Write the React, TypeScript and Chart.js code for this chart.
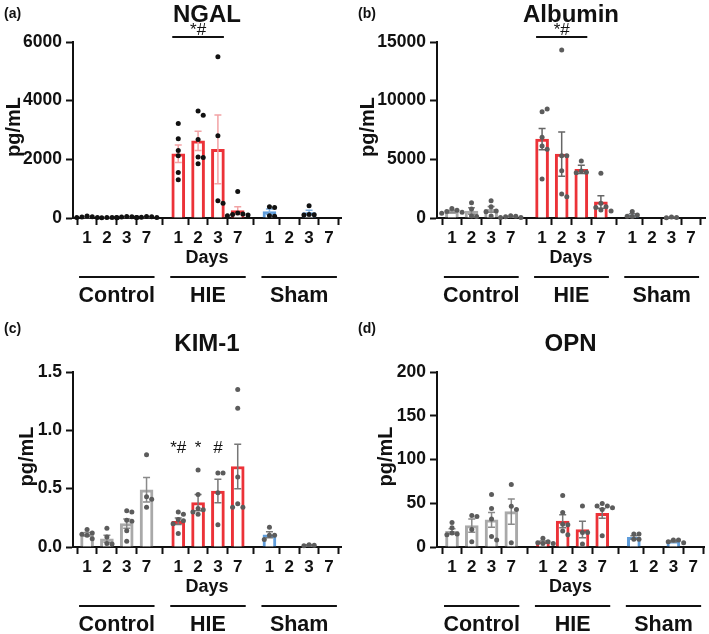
import React, { useEffect, useRef } from 'react';
import { Chart, registerables } from 'chart.js';

Chart.register(...registerables);

const FONT = "'Liberation Sans', Arial, Helvetica, sans-serif";

// ---------- categories / labels ----------
const DAY_LABELS = ['1', '2', '3', '7', '1', '2', '3', '7', '1', '2', '3', '7'];
const GROUP_NAMES = ['Control', 'HIE', 'Sham'];
const X_TITLE = 'Days';
const Y_TITLE = 'pg/mL';

// ---------- NGAL ----------
const ngalMeans = [35, 12, 30, 30, 2190, 2630, 2340, 250, 220, null, 185, null];
const ngalSems = [15, 5, 10, 10, 300, 330, 1170, 130, 90, null, 75, null];
const ngalPoints = [
  [70, 40, 30, 20, 15],
  [20, 15, 10, 5],
  [50, 40, 30, 15, 15],
  [50, 40, 25, 20, 15],
  [3220, 2700, 2300, 2120, 1550, 1300],
  [3650, 3500, 2680, 2080, 2060, 1850],
  [5500, 2800, 590, 500],
  [900, 170, 140, 120, 100, 80],
  [380, 360, 80, 60],
  [],
  [420, 120, 110, 100],
  [],
];

// ---------- Albumin ----------
const albMeans = [560, 590, 740, 110, 6720, 5450, 4150, 1370, 270, null, 50, null];
const albSems = [90, 280, 250, 40, 900, 1890, 350, 530, 100, null, 20, null];
const albPoints = [
  [820, 650, 550, 500, 400],
  [1300, 770, 170, 130],
  [1480, 960, 600, 540, 170],
  [200, 150, 100, 50, 50],
  [9060, 9290, 6880, 6140, 5860, 3330],
  [14320, 5310, 5310, 4030, 2050, 1820],
  [4860, 4000, 3900, 3850],
  [3810, 1250, 960, 900, 680, 600],
  [550, 250, 150, 120],
  [],
  [80, 50, 30],
  [],
];

// ---------- KIM-1 ----------
const kimMeans = [0.11, 0.07, 0.2, 0.49, 0.22, 0.38, 0.48, 0.69, 0.105, null, 0.015, null];
const kimSems = [0.015, 0.03, 0.04, 0.105, 0.028, 0.07, 0.1, 0.19, 0.025, null, 0.005, null];
const kimPoints = [
  [0.15, 0.12, 0.11, 0.1, 0.07],
  [0.16, 0.085, 0.03, 0.025],
  [0.31, 0.3, 0.23, 0.22, 0.14, 0.05],
  [0.79, 0.43, 0.41, 0.34],
  [0.3, 0.28, 0.235, 0.225, 0.2, 0.115],
  [0.66, 0.45, 0.33, 0.32, 0.3, 0.28],
  [0.635, 0.635, 0.465, 0.19],
  [1.35, 1.19, 0.6, 0.37, 0.34, 0.34],
  [0.17, 0.1, 0.1, 0.065],
  [],
  [0.02, 0.015, 0.01],
  [],
];
const kimSigMarks = ['*#', '*', '#'];
const kimSigValue = 0.85;

// ---------- OPN ----------
const opnMeans = [18, 24.5, 31, 40.5, 5.8, 29.5, 20, 38.5, 11, null, 6.5, null];
const opnSems = [3, 7.5, 8.5, 14.5, 1.2, 7.5, 9.5, 5.5, 1.8, null, 0.8, null];
const opnPoints = [
  [28, 22, 16, 15, 14],
  [36, 35, 20, 6],
  [60, 44, 32, 12, 8],
  [71.5, 46.7, 43, 5],
  [10, 6, 5, 4, 4],
  [59, 39.5, 26, 25.5, 18.4, 14],
  [47, 16.5, 16.5, 3.4],
  [49.7, 47, 47, 45, 43, 13],
  [15, 15, 9, 9],
  [],
  [8, 8, 6, 5],
  [],
];

// ---------- layout (not data) ----------
const POSITIONS = [0, 1, 2, 3, 4.6, 5.6, 6.6, 7.6, 9.2, 10.2, 11.2, 12.2];
const BAR_COLORS = ['#a9a9a9', '#ec3238', '#5f9ddb'];

type Panel = {
  tag: string;
  title: string;
  means: (number | null)[];
  sems: (number | null)[];
  points: number[][];
  yMax: number;
  yStep: number;
  decimals: number;
  dotColor: string;
  errColors: string[];
  bracket: string | null;
  marks: string[] | null;
  marksValue: number;
  box: { left: number; top: number; w: number; h: number };
  area: { left: number; right: number; top: number; bottom: number };
  xmin: number;
  xmax: number;
  titleBase: number;
  tagY: number;
  yTitleX: number;
};

const PANELS: Panel[] = [
  {
    tag: '(a)', title: 'NGAL', means: ngalMeans, sems: ngalSems, points: ngalPoints,
    yMax: 6000, yStep: 2000, decimals: 0, dotColor: '#111111',
    errColors: ['#9a9a9a', '#f2a3a5', '#7fb0e2'], bracket: '*#', marks: null, marksValue: 0,
    box: { left: 0, top: 0, w: 354, h: 310 },
    area: { left: 73, right: 341, top: 42, bottom: 218 },
    xmin: -0.71, xmax: 12.81, titleBase: 22, tagY: 14, yTitleX: 14,
  },
  {
    tag: '(b)', title: 'Albumin', means: albMeans, sems: albSems, points: albPoints,
    yMax: 15000, yStep: 5000, decimals: 0, dotColor: '#5c5c5c',
    errColors: ['#8a8a8a', '#666666', '#7a7a7a'], bracket: '*#', marks: null, marksValue: 0,
    box: { left: 354, top: 0, w: 355, h: 310 },
    area: { left: 83, right: 353, top: 42, bottom: 218 },
    xmin: -0.76, xmax: 12.91, titleBase: 22, tagY: 14, yTitleX: 14,
  },
  {
    tag: '(c)', title: 'KIM-1', means: kimMeans, sems: kimSems, points: kimPoints,
    yMax: 1.5, yStep: 0.5, decimals: 1, dotColor: '#5c5c5c',
    errColors: ['#8a8a8a', '#777777', '#7a7a7a'], bracket: null, marks: kimSigMarks, marksValue: kimSigValue,
    box: { left: 0, top: 310, w: 354, h: 324 },
    area: { left: 73, right: 341, top: 62, bottom: 237 },
    xmin: -0.71, xmax: 12.81, titleBase: 41, tagY: 19, yTitleX: 27,
  },
  {
    tag: '(d)', title: 'OPN', means: opnMeans, sems: opnSems, points: opnPoints,
    yMax: 200, yStep: 50, decimals: 0, dotColor: '#5c5c5c',
    errColors: ['#8a8a8a', '#777777', '#7a7a7a'], bracket: null, marks: null, marksValue: 0,
    box: { left: 354, top: 310, w: 355, h: 324 },
    area: { left: 83, right: 350, top: 62, bottom: 237 },
    xmin: -0.76, xmax: 12.75, titleBase: 41, tagY: 19, yTitleX: 32,
  },
];

// beeswarm-like horizontal placement of the individual points
function swarm(values: number[], pos: number, yMax: number) {
  const placed: { x: number; y: number }[] = [];
  const dx = 0.26;
  const dy = yMax * 0.028;
  const order = [0, 1, -1, 2, -2, 3, -3];
  values.forEach((v) => {
    for (const k of order) {
      const x = pos + k * dx;
      const ok = placed.every((p) => Math.abs(p.x - x) > dx * 0.9 || Math.abs(p.y - v) > dy);
      if (ok) {
        placed.push({ x, y: v });
        break;
      }
    }
  });
  return placed;
}

function buildChart(canvas: HTMLCanvasElement, p: Panel) {
  const barData: { x: number; y: number }[] = [];
  const barColors: string[] = [];
  p.means.forEach((m, i) => {
    if (m === null) return;
    barData.push({ x: POSITIONS[i], y: m });
    barColors.push(BAR_COLORS[Math.floor(i / 4)]);
  });
  const dots: { x: number; y: number }[] = [];
  p.points.forEach((vals, i) => {
    swarm(vals, POSITIONS[i], p.yMax).forEach((d) => dots.push(d));
  });

  const decor = {
    id: 'decor',
    afterDatasetDraw(chart: any, args: any) {
      if (args.index !== 1) return;
      const ctx = chart.ctx;
      const xs = chart.scales.x;
      const ys = chart.scales.y;
      ctx.save();
      ctx.lineWidth = 1.5;
      p.means.forEach((m, i) => {
        const s = p.sems[i];
        if (m === null || s === null || !s) return;
        const x = xs.getPixelForValue(POSITIONS[i]);
        const y1 = ys.getPixelForValue(m + s);
        const y2 = ys.getPixelForValue(Math.max(0, m - s));
        ctx.strokeStyle = p.errColors[Math.floor(i / 4)];
        ctx.beginPath();
        ctx.moveTo(x, y1);
        ctx.lineTo(x, y2);
        ctx.moveTo(x - 3.5, y1);
        ctx.lineTo(x + 3.5, y1);
        ctx.moveTo(x - 3.5, y2);
        ctx.lineTo(x + 3.5, y2);
        ctx.stroke();
      });
      ctx.restore();
    },
    afterDraw(chart: any) {
      const ctx = chart.ctx;
      const xs = chart.scales.x;
      const ys = chart.scales.y;
      const ca = chart.chartArea;
      const cx = (ca.left + ca.right) / 2;
      ctx.save();
      ctx.fillStyle = '#111';
      ctx.strokeStyle = '#111';

      // title
      ctx.textAlign = 'center';
      ctx.textBaseline = 'alphabetic';
      ctx.font = `bold 24px ${FONT}`;
      ctx.fillText(p.title, cx, p.titleBase);

      ctx.textBaseline = 'middle';
      // panel tag
      ctx.textAlign = 'left';
      ctx.font = `bold 14px ${FONT}`;
      ctx.fillText(p.tag, 4, p.tagY);

      // y title
      ctx.save();
      ctx.translate(p.yTitleX, (ca.top + ca.bottom) / 2 - 3);
      ctx.rotate(-Math.PI / 2);
      ctx.textAlign = 'center';
      ctx.font = `bold 20px ${FONT}`;
      ctx.fillText(Y_TITLE, 0, 0);
      ctx.restore();

      // x title
      ctx.textAlign = 'center';
      ctx.font = `bold 18px ${FONT}`;
      ctx.fillText(X_TITLE, cx, ca.bottom + 40);

      // group lines + labels
      ctx.lineWidth = 2;
      ctx.font = `bold 21.5px ${FONT}`;
      GROUP_NAMES.forEach((g, gi) => {
        const x1 = xs.getPixelForValue(POSITIONS[gi * 4]) - 8;
        const x2 = xs.getPixelForValue(POSITIONS[gi * 4 + 3]) + 8;
        const ly = ca.bottom + 59;
        ctx.beginPath();
        ctx.moveTo(x1, ly);
        ctx.lineTo(x2, ly);
        ctx.stroke();
        ctx.fillText(g, (x1 + x2) / 2, ca.bottom + 78);
      });

      // significance
      ctx.font = `17px ${FONT}`;
      if (p.bracket) {
        const x1 = xs.getPixelForValue(POSITIONS[4]) - 6;
        const x2 = xs.getPixelForValue(POSITIONS[6]) + 6;
        const by = ca.top - 5;
        ctx.beginPath();
        ctx.moveTo(x1, by);
        ctx.lineTo(x2, by);
        ctx.stroke();
        ctx.fillText(p.bracket, (x1 + x2) / 2, by - 7);
      }
      if (p.marks) {
        p.marks.forEach((mk, k) => {
          const x = xs.getPixelForValue(POSITIONS[4 + k]);
          ctx.fillText(mk, x, ys.getPixelForValue(p.marksValue));
        });
      }
      ctx.restore();
    },
  };

  return new Chart(canvas, {
    type: 'bar',
    data: {
      datasets: [
        {
          type: 'scatter',
          data: dots,
          backgroundColor: p.dotColor,
          borderWidth: 0,
          pointRadius: 2.5,
          clip: false,
        } as any,
        {
          type: 'bar',
          data: barData,
          backgroundColor: '#ffffff',
          borderColor: barColors,
          borderWidth: 3,
          barThickness: 13,
          borderSkipped: 'bottom',
        } as any,
      ],
    },
    options: {
      animation: false,
      responsive: false,
      maintainAspectRatio: false,
      events: [],
      layout: {
        padding: { left: 0, right: p.box.w - p.area.right, top: p.area.top, bottom: 0 },
      },
      plugins: {
        legend: { display: false },
        title: { display: false },
        tooltip: { enabled: false },
      },
      scales: {
        x: {
          type: 'linear',
          min: p.xmin,
          max: p.xmax,
          offset: false,
          afterBuildTicks: (s: any) => {
            s.ticks = POSITIONS.map((v) => ({ value: v }));
          },
          afterFit: (s: any) => {
            s.height = p.box.h - p.area.bottom;
          },
          ticks: {
            autoSkip: false,
            maxRotation: 0,
            padding: 3,
            color: '#111',
            font: { family: FONT, size: 17, weight: 'bold' },
            callback: (_v: any, i: number) => DAY_LABELS[i],
          },
          grid: {
            drawOnChartArea: false,
            drawTicks: true,
            tickLength: 7,
            tickWidth: 2,
            tickColor: '#111',
          },
          border: { display: true, color: '#111', width: 2 },
        } as any,
        y: {
          type: 'linear',
          min: 0,
          max: p.yMax,
          afterFit: (s: any) => {
            s.width = p.area.left;
          },
          ticks: {
            stepSize: p.yStep,
            padding: 4,
            color: '#111',
            font: { family: FONT, size: 17.5, weight: 'bold' },
            callback: (v: any) => (p.decimals ? Number(v).toFixed(p.decimals) : String(v)),
          },
          grid: {
            drawOnChartArea: false,
            drawTicks: true,
            tickLength: 7,
            tickWidth: 2,
            tickColor: '#111',
          },
          border: { display: true, color: '#111', width: 2 },
        } as any,
      },
    } as any,
    plugins: [decor],
  });
}

function PanelChart({ panel }: { panel: Panel }) {
  const ref = useRef<HTMLCanvasElement | null>(null);
  useEffect(() => {
    if (!ref.current) return;
    const chart = buildChart(ref.current, panel);
    return () => chart.destroy();
  }, [panel]);
  return (
    <canvas
      ref={ref}
      width={panel.box.w}
      height={panel.box.h}
      style={{
        position: 'absolute',
        left: panel.box.left,
        top: panel.box.top,
        width: panel.box.w,
        height: panel.box.h,
      }}
    />
  );
}

export default function App() {
  return (
    <div
      style={{
        position: 'absolute',
        left: 0,
        top: 0,
        width: 709,
        height: 634,
        background: '#ffffff',
        overflow: 'hidden',
      }}
    >
      {PANELS.map((p) => (
        <PanelChart key={p.tag} panel={p} />
      ))}
    </div>
  );
}
